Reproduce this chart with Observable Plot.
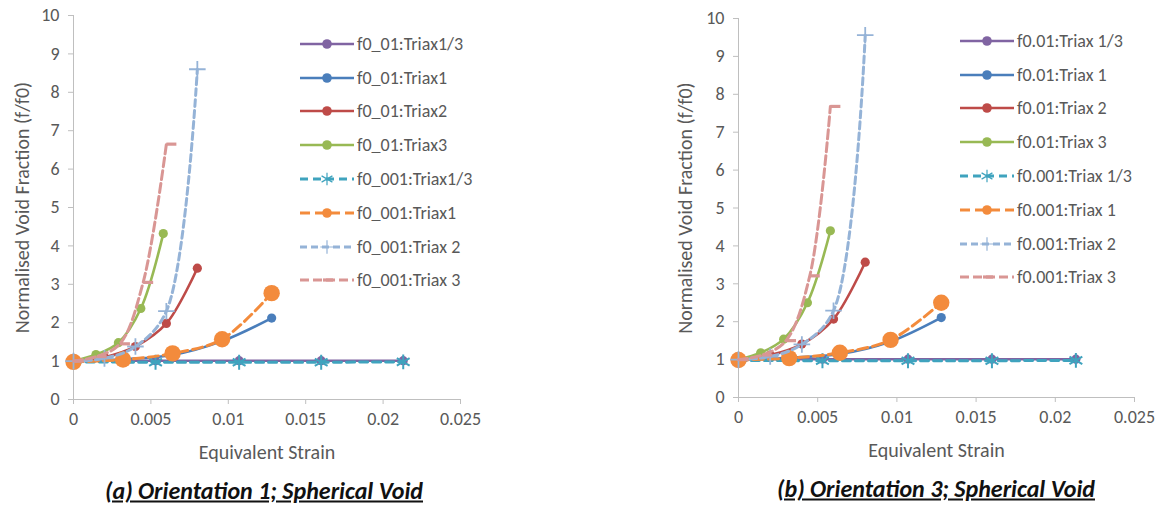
<!DOCTYPE html>
<html><head><meta charset="utf-8">
<script src="https://cdn.jsdelivr.net/npm/d3@7"></script>
<script src="https://cdn.jsdelivr.net/npm/@observablehq/plot@0.6"></script>
<style>
body{margin:0;background:#fff;}
#wrap{position:relative;width:1160px;height:506px;font-family:Carlito,Calibri,Lato,sans-serif;color:#595959;overflow:hidden;background:#fff}
.panel{position:absolute;top:0}
.legend{position:absolute}
.legend .item{display:flex;align-items:center;height:33.8px;font-size:18px;white-space:nowrap;color:#595959}
.legend svg{margin-right:3px;overflow:visible}
.caption{position:absolute;font-weight:bold;font-style:italic;text-decoration:underline;font-size:24px;color:#111;white-space:nowrap;transform:translate(-50%,-50%)}
</style></head>
<body>
<div id="wrap"></div>
<script>
// ---------- tick values ----------
const xTickValues = [0, 0.005, 0.01, 0.015, 0.02, 0.025];
const yTickValues = [0, 1, 2, 3, 4, 5, 6, 7, 8, 9, 10];
const xTitle = "Equivalent Strain";
const yTitle = "Normalised Void Fraction (f/f0)";

// ---------- Panel (a): Orientation 1 ----------
const namesA = ["f0_01:Triax1/3", "f0_01:Triax1", "f0_01:Triax2", "f0_01:Triax3",
                "f0_001:Triax1/3", "f0_001:Triax1", "f0_001:Triax 2", "f0_001:Triax 3"];
const xA_T13 = [0, 0.0053, 0.0107, 0.016, 0.0213];
const yA_f01_T13 = [1.01, 1.01, 1.01, 1.01, 1.01];
const xA_T1 = [0, 0.0032, 0.0064, 0.0096, 0.0128];
const yA_f01_T1 = [1.0, 1.05, 1.16, 1.52, 2.12];
const xA_T2 = [0, 0.002, 0.004, 0.006, 0.008];
const yA_f01_T2 = [1.0, 1.1, 1.38, 1.98, 3.42];
const xA_T3 = [0, 0.00145, 0.0029, 0.00435, 0.0058];
const yA_f01_T3 = [1.0, 1.17, 1.48, 2.37, 4.32];
const yA_f001_T13 = [0.98, 0.97, 0.97, 0.97, 0.98];
const yA_f001_T1 = [0.98, 1.04, 1.2, 1.57, 2.77];
const yA_f001_T2 = [1.0, 1.07, 1.38, 2.3, 8.6];
const xA_T3b = [0, 0.0015, 0.003, 0.0045, 0.006];
const yA_f001_T3 = [1.0, 1.12, 1.45, 3.05, 6.65];

// ---------- Panel (b): Orientation 3 ----------
const namesB = ["f0.01:Triax 1/3", "f0.01:Triax 1", "f0.01:Triax 2", "f0.01:Triax 3",
                "f0.001:Triax 1/3", "f0.001:Triax 1", "f0.001:Triax 2", "f0.001:Triax 3"];
const xB_T13 = [0, 0.0053, 0.0107, 0.016, 0.0213];
const yB_f01_T13 = [1.01, 1.01, 1.01, 1.01, 1.01];
const xB_T1 = [0, 0.0032, 0.0064, 0.0096, 0.0128];
const yB_f01_T1 = [1.0, 1.05, 1.15, 1.48, 2.11];
const xB_T2 = [0, 0.002, 0.004, 0.006, 0.008];
const yB_f01_T2 = [1.0, 1.12, 1.41, 2.07, 3.57];
const xB_T3 = [0, 0.0014, 0.00285, 0.00435, 0.0058];
const yB_f01_T3 = [1.0, 1.18, 1.54, 2.5, 4.4];
const yB_f001_T13 = [0.98, 0.97, 0.97, 0.97, 0.98];
const yB_f001_T1 = [0.99, 1.04, 1.18, 1.52, 2.5];
const yB_f001_T2 = [1.0, 1.08, 1.4, 2.29, 9.56];
const xB_T3b = [0, 0.0015, 0.003, 0.0045, 0.0058];
const yB_f001_T3 = [1.0, 1.12, 1.5, 3.21, 7.68];

// ---------- styles ----------
const colors = ["#8064A2", "#4A7EBB", "#BE4B48", "#98B954", "#3FA3BE", "#F38B3C", "#95B3D7", "#D99694"];
const dashes = [null, null, null, null, "8,5", "10,5", "7,4", "9,4"];
const markers = ["circle", "circle", "circle", "circle", "asterisk", "bigcircle", "plus", "dash"];
const FONT = "Carlito, Calibri, Lato, sans-serif";

const dashSymbol = {draw(ctx) { ctx.moveTo(0, -1.6); ctx.lineTo(10, -1.6); ctx.lineTo(10, 1.6); ctx.lineTo(0, 1.6); ctx.closePath(); }};

function dotOpts(kind, color) {
  if (kind === "circle") return {symbol: "circle", r: 4.6, fill: color, stroke: "none"};
  if (kind === "bigcircle") return {symbol: "circle", r: 8.2, fill: color, stroke: "none"};
  if (kind === "asterisk") return {symbol: "asterisk", r: 7, fill: "none", stroke: color, strokeWidth: 2};
  if (kind === "plus") return {symbol: "plus", r: 5.4, fill: "none", stroke: color, strokeWidth: 1.8};
  return {symbol: dashSymbol, fill: color, stroke: "none"};
}

function buildSeries(names, xs, ys) {
  return names.map((name, i) => ({name, x: xs[i], y: ys[i], color: colors[i], dash: dashes[i], marker: markers[i]}));
}

const seriesA = buildSeries(namesA,
  [xA_T13, xA_T1, xA_T2, xA_T3, xA_T13, xA_T1, xA_T2, xA_T3b],
  [yA_f01_T13, yA_f01_T1, yA_f01_T2, yA_f01_T3, yA_f001_T13, yA_f001_T1, yA_f001_T2, yA_f001_T3]);
const seriesB = buildSeries(namesB,
  [xB_T13, xB_T1, xB_T2, xB_T3, xB_T13, xB_T1, xB_T2, xB_T3b],
  [yB_f01_T13, yB_f01_T1, yB_f01_T2, yB_f01_T3, yB_f001_T13, yB_f001_T1, yB_f001_T2, yB_f001_T3]);

function panel(series, m) {
  const marks = [
    Plot.ruleX([0], {stroke: "#BFBFBF"}),
    Plot.ruleY([0], {stroke: "#BFBFBF"}),
    Plot.axisX({ticks: xTickValues, tickSize: 5, tickPadding: 8, stroke: "#BFBFBF", fill: "#595959", fontSize: 18,
      tickFormat: d => String(+d.toFixed(3)), label: null}),
    Plot.axisY({ticks: yTickValues, tickSize: 5, tickPadding: 9, stroke: "#BFBFBF", fill: "#595959", fontSize: 18, label: null}),
    Plot.text([xTitle], {frameAnchor: "bottom", dy: 53, fontSize: 20, fill: "#595959", lineAnchor: "middle"}),
    Plot.text([yTitle], {frameAnchor: "left", dx: -m.yTitleDx, rotate: -90, fontSize: 20, fill: "#595959", lineAnchor: "middle", textAnchor: "middle"})
  ];
  for (const s of series) {
    const data = s.x.map((x, i) => ({x, y: s.y[i]}));
    marks.push(Plot.line(data, {x: "x", y: "y", stroke: s.color, strokeWidth: s.dash ? 3 : 2.6,
      strokeDasharray: s.dash, curve: "catmull-rom"}));
    marks.push(Plot.dot(data, {x: "x", y: "y", ...dotOpts(s.marker, s.color)}));
  }
  return Plot.plot({
    width: 580, height: 470,
    marginLeft: m.left, marginRight: m.right, marginTop: m.top, marginBottom: m.bottom,
    x: {domain: [0, 0.025]}, y: {domain: [0, 10]},
    style: {fontSize: "18px", fontFamily: FONT, color: "#595959", background: "transparent", overflow: "visible"},
    marks
  });
}

function legend(series, left, top) {
  const div = d3.create("div").attr("class", "legend").style("left", left + "px").style("top", top + "px");
  for (const s of series) {
    const item = div.append("div").attr("class", "item");
    const svg = item.append("svg").attr("width", 54).attr("height", 20);
    svg.append("line").attr("x1", 0).attr("x2", 54).attr("y1", 10).attr("y2", 10)
      .attr("stroke", s.color).attr("stroke-width", s.dash ? 3 : 2.6)
      .attr("stroke-dasharray", s.dash);
    const g = svg.append("g").attr("transform", "translate(27,10)");
    if (s.marker === "circle" || s.marker === "bigcircle") g.append("circle").attr("r", 4.8).attr("fill", s.color);
    else if (s.marker === "asterisk") g.append("path").attr("d", d3.symbol(d3.symbolAsterisk, 110)()).attr("stroke", s.color).attr("stroke-width", 1.2).attr("fill", "none");
    else if (s.marker === "plus") g.append("path").attr("d", d3.symbol(d3.symbolPlus, 60)()).attr("stroke", s.color).attr("stroke-width", 1.2).attr("fill", "none");
    else g.append("rect").attr("x", -4).attr("y", -1.6).attr("width", 10).attr("height", 3.2).attr("fill", s.color);
    item.append("span").text(s.name);
  }
  return div.node();
}

const wrap = document.getElementById("wrap");
const pA = panel(seriesA, {left: 73, right: 120, top: 15, bottom: 71, yTitleDx: 51});
pA.classList.add("panel"); pA.style.left = "0px";
const pB = panel(seriesB, {left: 158, right: 26, top: 18, bottom: 73, yTitleDx: 53});
pB.classList.add("panel"); pB.style.left = "580px";
wrap.appendChild(pA);
wrap.appendChild(pB);
wrap.appendChild(legend(seriesA, 300, 27));
wrap.appendChild(legend(seriesB, 960, 24));

const capA = document.createElement("div"); capA.className = "caption";
capA.textContent = "(a) Orientation 1; Spherical Void"; capA.style.left = "264px"; capA.style.top = "490px";
const capB = document.createElement("div"); capB.className = "caption";
capB.textContent = "(b) Orientation 3; Spherical Void"; capB.style.left = "936px"; capB.style.top = "488px";
wrap.appendChild(capA); wrap.appendChild(capB);
</script>
</body></html>
